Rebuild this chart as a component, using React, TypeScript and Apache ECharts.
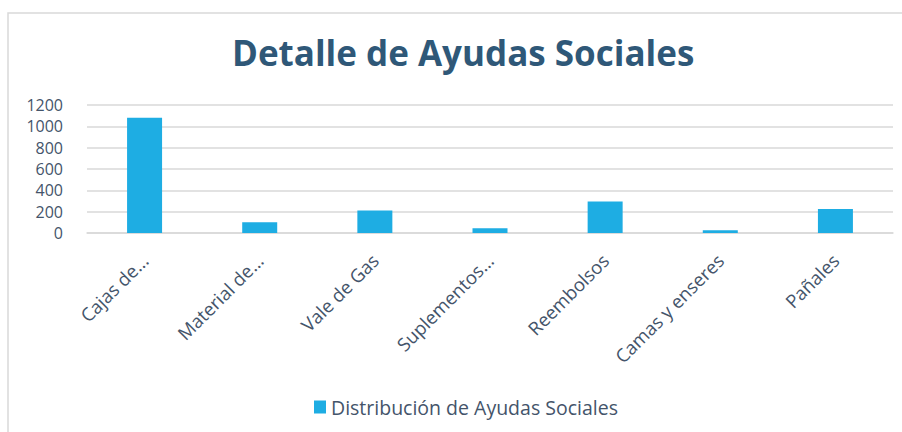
import React, { useEffect, useRef } from "react";
import * as echarts from "echarts";

const categories = [
  "Cajas de...",
  "Material de...",
  "Vale de Gas",
  "Suplementos...",
  "Reembolsos",
  "Camas y enseres",
  "Pañales",
];
const values = [1080, 100, 210, 45, 295, 25, 225];
const seriesName = "Distribución de Ayudas Sociales";
const titleText = "Detalle de Ayudas Sociales";
const yTicks = { min: 0, max: 1200, interval: 200 };

const FONT = "'Open Sans', 'Noto Sans', sans-serif";
const TEXT = "#44546A";

export default function App() {
  const ref = useRef<HTMLDivElement>(null);
  useEffect(() => {
    document.body.style.margin = "0";
    const chart = echarts.init(ref.current!, null, { renderer: "svg" });
    chart.setOption({
      animation: false,
      backgroundColor: "#ffffff",
      textStyle: { fontFamily: FONT },
      title: {
        text: titleText,
        left: 227,
        top: 30,
        textStyle: { fontFamily: FONT, fontSize: 35, fontWeight: "bold", color: "#2F5878" },
      },
      graphic: [
        {
          type: "rect",
          shape: { x: 8, y: 13, width: 920, height: 440 },
          style: { fill: "none", stroke: "#D9D9D9", lineWidth: 1.5 },
          silent: true,
          z: -1,
        },
      ],
      legend: {
        bottom: 10,
        left: 309,
        itemWidth: 12,
        itemHeight: 13,
        icon: "rect",
        textStyle: { fontFamily: FONT, fontSize: 19.5, color: TEXT },
        data: [seriesName],
      },
      grid: { left: 87, right: 9, top: 105, bottom: 199, containLabel: false },
      xAxis: {
        type: "category",
        data: categories,
        axisLine: { lineStyle: { color: "#D9D9D9", width: 1.5 } },
        axisTick: { show: false },
        axisLabel: { rotate: 45, fontSize: 18.5, color: TEXT, margin: 24, fontFamily: FONT, interval: 0 },
      },
      yAxis: {
        type: "value",
        min: yTicks.min,
        max: yTicks.max,
        interval: yTicks.interval,
        axisLine: { show: false },
        axisTick: { show: false },
        splitLine: { lineStyle: { color: "#D9D9D9", width: 1.5 } },
        axisLabel: {
          fontSize: 16,
          lineHeight: 16,
          color: TEXT,
          margin: 24,
          fontFamily: FONT,
          formatter: (v: number) => String(v),
        },
      },
      series: [
        {
          name: seriesName,
          type: "bar",
          data: values,
          barWidth: 35,
          itemStyle: { color: "#1EADE3" },
        },
      ],
    });
    return () => chart.dispose();
  }, []);
  return <div ref={ref} style={{ width: 902, height: 432 }} />;
}
